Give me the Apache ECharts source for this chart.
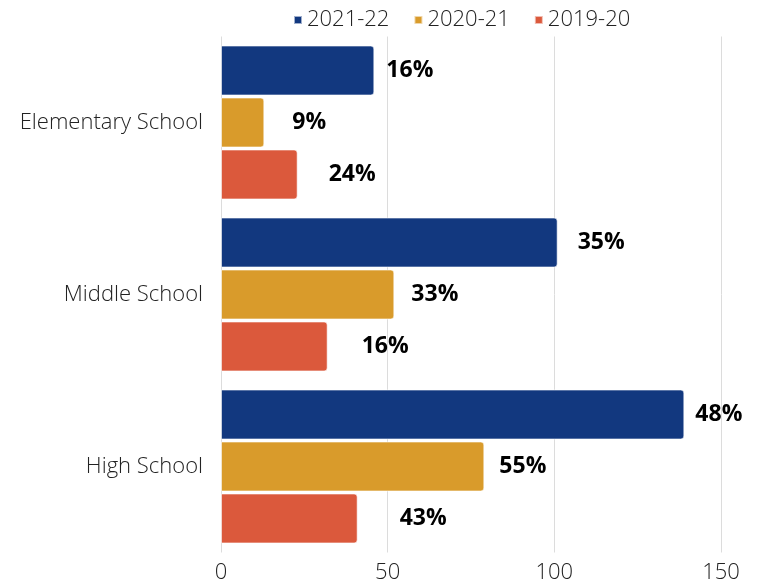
<!DOCTYPE html>
<html>
<head>
<meta charset="utf-8">
<script src="https://cdn.jsdelivr.net/npm/echarts@6/dist/echarts.min.js"></script>
<style>
  html, body { margin: 0; padding: 0; background: #fff; }
  #main { width: 758px; height: 580px; }
</style>
</head>
<body>
<div id="main"></div>
<script>
// data
const categories = ['Elementary School', 'Middle School', 'High School'];
const seriesNames = ['2021-22', '2020-21', '2019-20'];
const values2122 = [46, 101, 139];
const values2021 = [13, 52, 79];
const values1920 = [23, 32, 41];
const labels2122 = ['16%', '35%', '48%'];
const labels2021 = ['9%', '33%', '55%'];
const labels1920 = ['24%', '16%', '43%'];
const xTicks = [0, 50, 100, 150];

// styling
const colors = ['#12387f', '#d99b2b', '#db593c'];
const labelGaps = [[12, 20, 11], [28, 17, 15], [31, 34, 42]];

let chart = echarts.init(document.getElementById('main'));

const allValues = [values2122, values2021, values1920];
const allLabels = [labels2122, labels2021, labels1920];

let series = seriesNames.map((name, s) => ({
  name: name,
  type: 'bar',
  barGap: '4%',
  barCategoryGap: '10.5%',
  data: allValues[s].map((v, i) => ({
    value: v,
    label: { distance: labelGaps[s][i], formatter: allLabels[s][i] }
  })),
  itemStyle: {
    color: colors[s],
    borderColor: 'rgba(255,255,255,0.6)',
    borderWidth: 1,
    borderRadius: [0, 3, 3, 0]
  },
  label: {
    show: true,
    position: 'right',
    color: '#000',
    fontFamily: 'Open Sans',
    fontWeight: 'bold',
    fontSize: 23
  }
}));

let option = {
  animation: false,
  color: colors,
  textStyle: { fontFamily: 'Open Sans' },
  legend: {
    top: 4,
    left: 288,
    itemWidth: 8,
    itemHeight: 8,
    itemGap: 24,
    icon: 'rect',
    textStyle: { fontSize: 22, color: '#222', fontWeight: 300, fontFamily: 'Open Sans' },
    data: seriesNames
  },
  grid: { left: 221, right: 37, top: 36.5, height: 516, outerBoundsMode: 'none', containLabel: false },
  xAxis: {
    type: 'value',
    min: xTicks[0],
    max: xTicks[xTicks.length - 1],
    interval: xTicks[1] - xTicks[0],
    axisLine: { show: false },
    axisTick: { show: false },
    splitLine: { lineStyle: { color: '#dcdcdc', width: 1 } },
    axisLabel: { fontSize: 22, color: '#222', fontWeight: 300, margin: 9, fontFamily: 'Open Sans' }
  },
  yAxis: {
    type: 'category',
    inverse: true,
    data: categories,
    axisLine: { show: false },
    axisTick: { show: false },
    axisLabel: { fontSize: 22, color: '#222', fontWeight: 300, margin: 18, fontFamily: 'Open Sans' }
  },
  series: series
};

chart.setOption(option);
</script>
</body>
</html>
